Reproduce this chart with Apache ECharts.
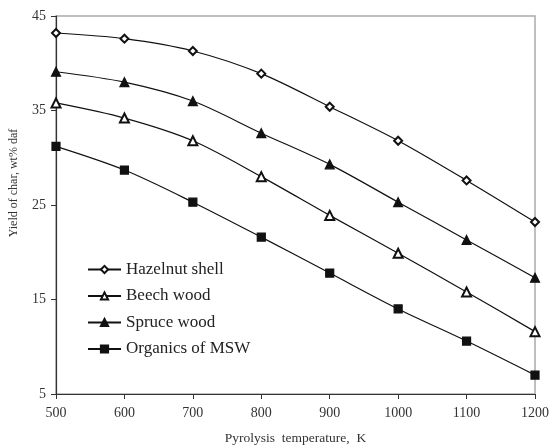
<!DOCTYPE html>
<html>
<head>
<meta charset="utf-8">
<script src="https://cdn.jsdelivr.net/npm/echarts@6/dist/echarts.min.js"></script>
<style>
    html, body { margin: 0; padding: 0; background: #fff; }
    #chart { width: 549px; height: 448px; }
</style>
</head>
<body>
<div id="chart"></div>
<script>
    // 热解温度 (K)
    var temperatures = [500, 600, 700, 800, 900, 1000, 1100, 1200];

    // 各原料的焦炭产率 (wt% daf)
    var hazelnutShell = [43.2, 42.6, 41.3, 38.9, 35.4, 31.8, 27.6, 23.2];
    var beechWood = [35.8, 34.2, 31.8, 28.0, 23.9, 19.9, 15.8, 11.6];
    var spruceWood = [39.1, 38.0, 36.0, 32.6, 29.3, 25.3, 21.3, 17.3];
    var organicsMsw = [31.2, 28.7, 25.3, 21.6, 17.8, 14.0, 10.6, 7.0];

    var yTicks = [5, 15, 25, 35, 45];

    var FONT = '"Liberation Serif", "Times New Roman", serif';

    function pairs(values) {
        return temperatures.map(function (t, i) {
            return [t, values[i]];
        });
    }

    function makeSeries(name, values, symbol, size) {
        return {
            name: name,
            type: 'line',
            data: pairs(values),
            smooth: 0.3,
            symbol: symbol,
            symbolSize: size,
            showAllSymbol: true,
            lineStyle: {color: '#111', width: 1.2},
            itemStyle: {color: '#111', borderColor: '#111', borderWidth: 1.2}
        };
    }

    var chart = echarts.init(document.getElementById('chart'));

    var option = {
        animation: false,
        backgroundColor: '#fff',
        grid: {
            left: 56,
            right: 14,
            top: 16,
            bottom: 54,
            outerBoundsMode: 'none',
            containLabel: false,
            show: true,
            borderColor: '#aaa',
            borderWidth: 1.5
        },
        legend: {
            orient: 'vertical',
            left: 87,
            top: 261,
            padding: 0,
            itemWidth: 33,
            itemHeight: 9,
            itemGap: 9.5,
            textStyle: {fontFamily: FONT, fontSize: 17, color: '#222'},
            data: ['Hazelnut shell', 'Beech wood', 'Spruce wood', 'Organics of MSW']
        },
        xAxis: {
            type: 'value',
            min: 500,
            max: 1200,
            interval: 100,
            name: 'Pyrolysis  temperature,  K',
            nameLocation: 'middle',
            nameGap: 37,
            nameTextStyle: {fontFamily: FONT, fontSize: 13.5, color: '#333'},
            axisLine: {lineStyle: {color: '#333', width: 1.2}},
            axisTick: {show: true, length: 5, lineStyle: {color: '#333'}},
            axisLabel: {
                fontFamily: FONT, fontSize: 14, color: '#333', margin: 12,
                formatter: function (v) { return String(v); }
            },
            splitLine: {show: false}
        },
        yAxis: {
            type: 'value',
            min: 5,
            max: 45,
            name: 'Yield of char, wt% daf',
            nameLocation: 'middle',
            nameGap: 36,
            nameTextStyle: {
                fontFamily: FONT, fontSize: 12, color: '#333',
                padding: [0, 0, 0, 44]
            },
            axisLine: {show: true, lineStyle: {color: '#333', width: 1.2}},
            axisTick: {show: true, length: 5, customValues: yTicks, lineStyle: {color: '#333'}},
            axisLabel: {fontFamily: FONT, fontSize: 14, color: '#333', margin: 10, customValues: yTicks},
            splitLine: {show: false}
        },
        series: [
            makeSeries('Hazelnut shell', hazelnutShell, 'emptyDiamond', 8),
            makeSeries('Beech wood', beechWood, 'emptyTriangle', 9),
            makeSeries('Spruce wood', spruceWood, 'triangle', 9),
            makeSeries('Organics of MSW', organicsMsw, 'rect', 8)
        ]
    };

    chart.setOption(option);
</script>
</body>
</html>
